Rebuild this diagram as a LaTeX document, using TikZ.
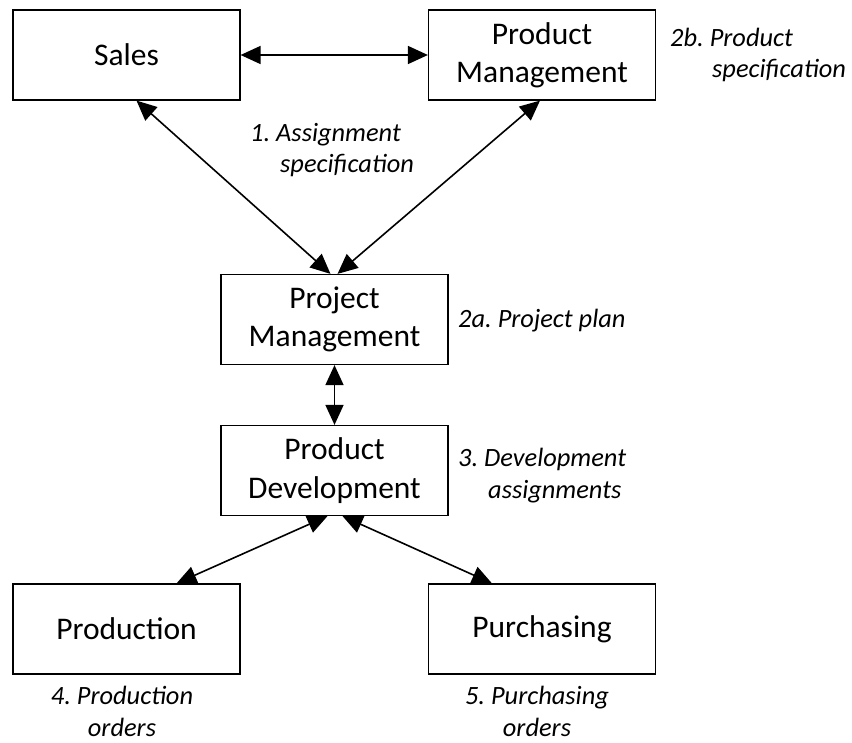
\documentclass[tikz,border=0pt]{standalone}
\usepackage{fontspec}
\setmainfont{Carlito}
\frenchspacing
\usetikzlibrary{arrows.meta}

\tikzset{
  unitbox/.style={draw, line width=1.2pt, minimum width=227pt, minimum height=90pt, align=center, font=\fontsize{31.5}{38.4}\selectfont},
  note/.style={inner sep=0pt, font=\fontsize{26.4}{31.5}\selectfont\itshape},
  biarrow/.style={{Triangle[length=20pt,width=18pt]}-{Triangle[length=20pt,width=18pt]}, line width=1.6pt}
}

\begin{document}
\begin{tikzpicture}[x=1pt,y=-1pt]
            \useasboundingbox (0,0) rectangle (852,743);

            \node[unitbox] (sales) at (126.5,55) {Sales};
            \node[unitbox] (prodmgmt) at (542,55) {Product\\Management};
            \node[unitbox] (projmgmt) at (334.5,319.5) {Project\\Management};
            \node[unitbox] (proddev) at (334.5,470.5) {Product\\Development};
            \node[unitbox] (production) at (126.5,629) {Production};
            \node[unitbox] (purchasing) at (542,629) {Purchasing};

            \draw[biarrow] (sales.east)--(prodmgmt.west);
            \draw[biarrow] ([xshift=10pt]sales.south)--([xshift=-4pt]projmgmt.north);
            \draw[biarrow] ([xshift=-2pt]prodmgmt.south)--([xshift=3pt]projmgmt.north);
            \draw[biarrow] (projmgmt.south)--(proddev.north);
            \draw[biarrow] ([xshift=-7pt]proddev.south)--([xshift=50pt]production.north);
            \draw[biarrow] ([xshift=8pt]proddev.south)--([xshift=-50pt]purchasing.north);

            % last line sits on the given baseline
            \node[note, anchor=base west, align=left] (n1) at (250,173) {1. Assignment\\\hspace*{30pt}specification};
            \node[note, anchor=base west, align=left] (n2b) at (670,78) {2b. Product\\\hspace*{42pt}specification};
            \node[note, anchor=base west] (n2a) at (458,328) {2a. Project plan};
            \node[note, anchor=base west, align=left] (n3) at (458,498) {3. Development\\\hspace*{30pt}assignments};
            \node[note, anchor=base, align=center] (n4) at (122,736) {4. Production\\orders};
            \node[note, anchor=base, align=center] (n5) at (537,736) {5. Purchasing\\orders};
        \end{tikzpicture}
\end{document}
